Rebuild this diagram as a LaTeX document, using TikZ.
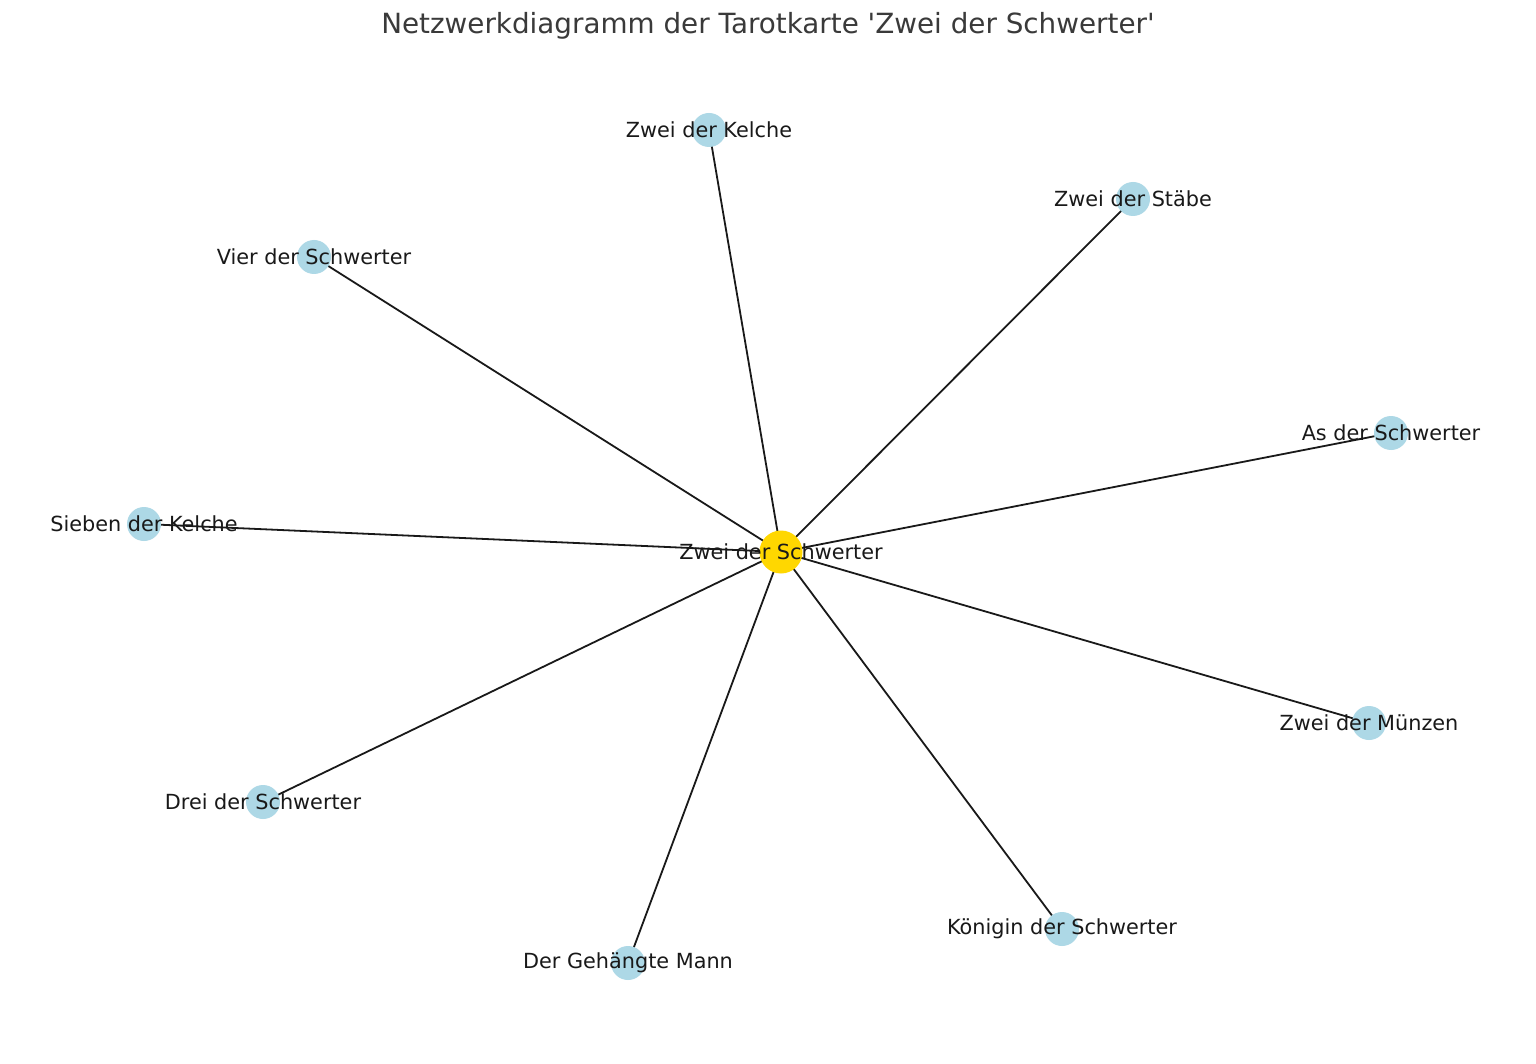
\documentclass[tikz,border=0pt]{standalone}
\usepackage{fontspec}
\setmainfont{DejaVu Sans}[Ligatures=TeXOff]
\definecolor{nodeblue}{HTML}{ADD8E6}
\definecolor{nodegold}{HTML}{FFD700}
\definecolor{titlegray}{HTML}{3A3A3A}
\begin{document}
\begin{tikzpicture}[x=1pt,y=-1pt,
  leaf/.style={circle,fill=nodeblue,minimum size=34pt,inner sep=0pt},
  hub/.style={circle,fill=nodegold,minimum size=43pt,inner sep=0pt},
  lbl/.style={inner sep=0pt,font=\fontsize{20.8}{24}\selectfont,text=black!90},
  edge/.style={line width=1.8pt,black!90}]
\useasboundingbox (0,0) rectangle (1536,1064);
\fill[white] (0,0) rectangle (1536,1064);
\node[font=\fontsize{27.8}{32}\selectfont,text=titlegray] (title) at (768,26) {Netzwerkdiagramm der Tarotkarte 'Zwei der Schwerter'};
% node positions
\coordinate (c) at (781,552);
\coordinate (k) at (709,130);
\coordinate (s) at (1133,199);
\coordinate (v) at (314,257);
\coordinate (a) at (1391,433);
\coordinate (sk) at (144,524);
\coordinate (m) at (1369,723);
\coordinate (d) at (263,802);
\coordinate (q) at (1062,929);
\coordinate (g) at (628,963);
% edges
\foreach \n in {k,s,v,a,sk,m,d,q,g} \draw[edge] (c) -- (\n);
% nodes
\node[hub] (nc) at (c) {};
\foreach \n in {k,s,v,a,sk,m,d,q,g} \node[leaf] (n\n) at (\n) {};
% labels
\node[lbl] (lc) at (c) {Zwei der Schwerter};
\node[lbl] (lk) at (k) {Zwei der Kelche};
\node[lbl] (ls) at (s) {Zwei der Stäbe};
\node[lbl] (lv) at (v) {Vier der Schwerter};
\node[lbl] (la) at (a) {As der Schwerter};
\node[lbl] (lsk) at (sk) {Sieben der Kelche};
\node[lbl] (lm) at (m) {Zwei der Münzen};
\node[lbl] (ld) at (d) {Drei der Schwerter};
\node[lbl] (lq) at (q) {Königin der Schwerter};
\node[lbl] (lg) at (g) {Der Gehängte Mann};
\end{tikzpicture}
\end{document}
